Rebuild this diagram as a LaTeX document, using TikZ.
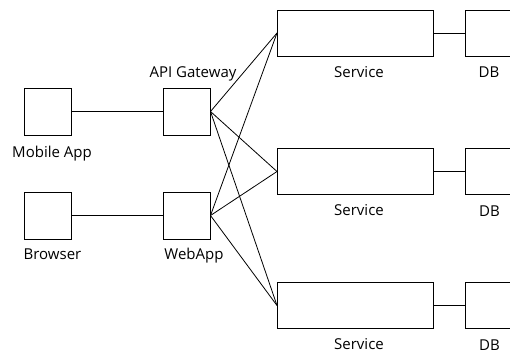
\documentclass[tikz,border=0pt]{standalone}
\usepackage{fontspec}
\setmainfont{Open Sans}
\begin{document}
\begin{tikzpicture}[x=1pt,y=-1pt,
  box/.style={draw,line width=0.8pt,inner sep=0pt,outer sep=0pt},
  small/.style={box,minimum width=47pt,minimum height=47pt},
  svc/.style={box,minimum width=156pt,minimum height=46pt},
  db/.style={box,minimum width=48pt,minimum height=46pt},
  lbl/.style={anchor=base,inner sep=0pt,font=\fontsize{15}{18}\selectfont},
  link/.style={line width=0.8pt}]
\useasboundingbox (0,0) rectangle (510,354);
% client side
\node[small] (mob) at (47.5,111.5) {};
\node[small] (api) at (187,111.5) {};
\node[small] (brw) at (47.5,215.5) {};
\node[small] (web) at (187,215.5) {};
% services and their databases
\node[svc] (s1) at (355,33) {};
\node[svc] (s2) at (355,171.5) {};
\node[svc] (s3) at (355,305.5) {};
\node[db] (d1) at (489,33) {};
\node[db] (d2) at (489,171.5) {};
\node[db] (d3) at (489,305.5) {};
% labels
\node[lbl] (lmob) at (52,157) {Mobile App};
\node[lbl] (lapi) at (193,77) {API Gateway};
\node[lbl] (lbrw) at (52.5,259) {Browser};
\node[lbl] (lweb) at (194,259) {WebApp};
\node[lbl] (ls1) at (359,77) {Service};
\node[lbl] (ls2) at (359,215) {Service};
\node[lbl] (ls3) at (359,349) {Service};
\node[lbl] (ld1) at (489,77) {DB};
\node[lbl] (ld2) at (489.5,216) {DB};
\node[lbl] (ld3) at (489.5,350) {DB};
% connections
\draw[link] (mob) -- (api);
\draw[link] (brw) -- (web);
\foreach \src in {api,web}
  \foreach \dst in {s1,s2,s3}
    \draw[link] (\src.east) -- (\dst.west);
\draw[link] (s1) -- (d1);
\draw[link] (s2) -- (d2);
\draw[link] (s3) -- (d3);
\end{tikzpicture}
\end{document}
